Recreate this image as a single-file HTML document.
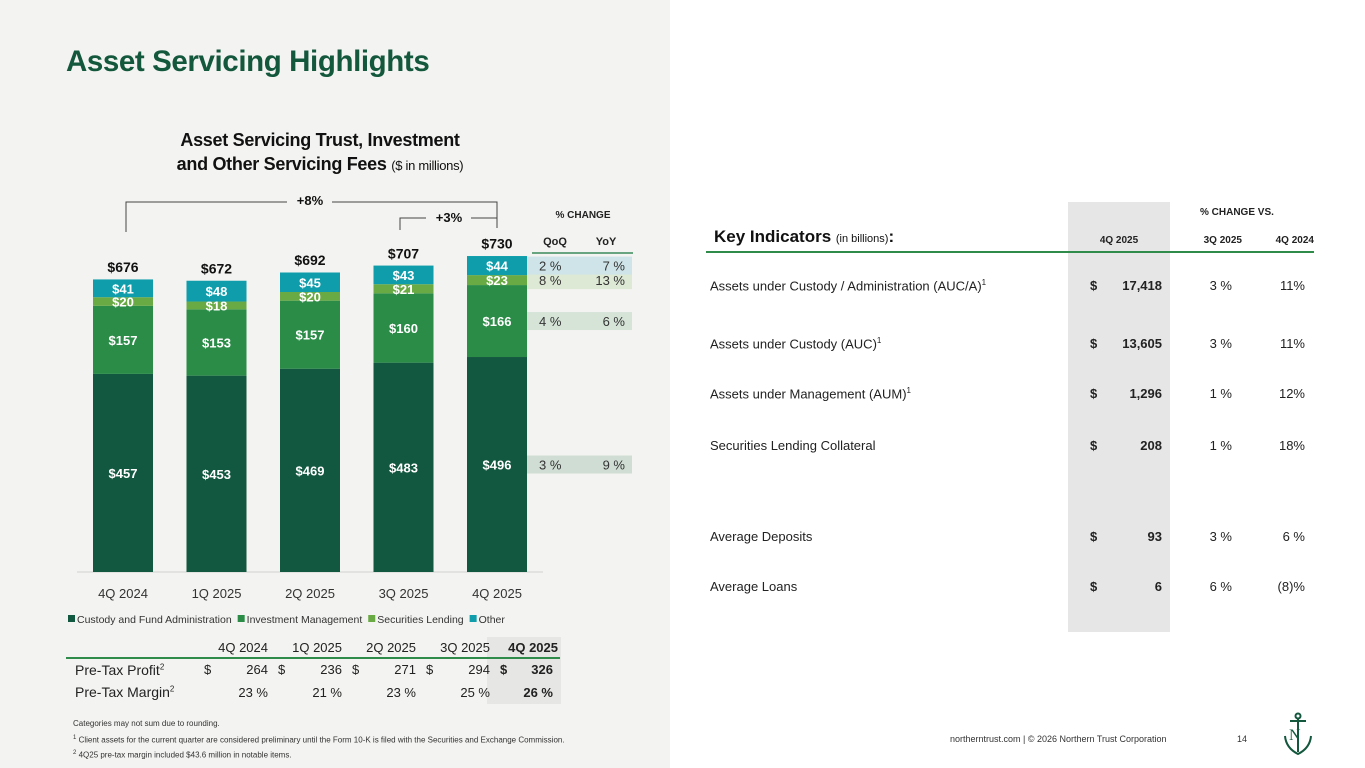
<!DOCTYPE html>
<html><head><meta charset="utf-8">
<style>
*{margin:0;padding:0;box-sizing:border-box}
body{width:1365px;height:768px;position:relative;overflow:hidden;background:#fff;font-family:"Liberation Sans",sans-serif;color:#222}
.a{position:absolute;white-space:nowrap}
#left{position:absolute;left:0;top:0;width:670px;height:768px;background:#f3f3f1}
.b{font-weight:bold}
.r{text-align:right}
.c{text-align:center}
</style></head><body>
<div id="left"></div>
<div class="a b" style="left:66px;top:45px;font-size:29.5px;color:#13573d;letter-spacing:-0.4px">Asset Servicing Highlights</div>
<div class="a b c" style="left:140px;top:128px;width:360px;font-size:18px;line-height:24px;color:#111;letter-spacing:-0.3px">Asset Servicing Trust, Investment<br>and Other Servicing Fees <span style="font-weight:normal;font-size:13px">($ in millions)</span></div>

<svg id="chart" class="a" style="left:0;top:0" width="670" height="640" font-family="Liberation Sans, sans-serif"></svg>

<div class="a" style="left:487px;top:637px;width:74px;height:67px;background:#e6e6e4"></div>
<div class="a" style="left:66px;top:657px;width:494px;height:2px;background:#2e8b4a"></div>
<div style="font-size:13px">
<div class="a r" style="left:190px;top:640px;width:78px">4Q 2024</div>
<div class="a r" style="left:264px;top:640px;width:78px">1Q 2025</div>
<div class="a r" style="left:338px;top:640px;width:78px">2Q 2025</div>
<div class="a r" style="left:412px;top:640px;width:78px">3Q 2025</div>
<div class="a r b" style="left:480px;top:640px;width:78px">4Q 2025</div>
<div class="a" style="left:75px;top:662px;font-size:14px">Pre-Tax Profit<sup style="font-size:8px">2</sup></div>
<div class="a" style="left:75px;top:684px;font-size:14px">Pre-Tax Margin<sup style="font-size:8px">2</sup></div>
<div class="a" style="left:204px;top:662px">$</div><div class="a r" style="left:220px;top:662px;width:48px">264</div>
<div class="a" style="left:278px;top:662px">$</div><div class="a r" style="left:294px;top:662px;width:48px">236</div>
<div class="a" style="left:352px;top:662px">$</div><div class="a r" style="left:368px;top:662px;width:48px">271</div>
<div class="a" style="left:426px;top:662px">$</div><div class="a r" style="left:442px;top:662px;width:48px">294</div>
<div class="a b" style="left:500px;top:662px">$</div><div class="a r b" style="left:505px;top:662px;width:48px">326</div>
<div class="a r" style="left:200px;top:685px;width:68px">23 %</div>
<div class="a r" style="left:274px;top:685px;width:68px">21 %</div>
<div class="a r" style="left:348px;top:685px;width:68px">23 %</div>
<div class="a r" style="left:422px;top:685px;width:68px">25 %</div>
<div class="a r b" style="left:485px;top:685px;width:68px">26 %</div>
</div>
<div style="font-size:8px;color:#333">
<div class="a" style="left:73px;top:719px">Categories may not sum due to rounding.</div>
<div class="a" style="left:73px;top:735px"><sup style="font-size:6px">1</sup> Client assets for the current quarter are considered preliminary until the Form 10-K is filed with the Securities and Exchange Commission.</div>
<div class="a" style="left:73px;top:750px"><sup style="font-size:6px">2</sup> 4Q25 pre-tax margin included $43.6 million in notable items.</div>
</div>

<div class="a" style="left:1068px;top:202px;width:102px;height:430px;background:#e6e6e6"></div>
<div class="a b" style="left:714px;top:227px;font-size:17px;color:#111">Key Indicators <span style="font-weight:normal;font-size:11px">(in billions)</span>:</div>
<div class="a b" style="left:1200px;top:207px;font-size:10px">% CHANGE VS.</div>
<div class="a b c" style="left:1068px;top:235px;width:102px;font-size:10px">4Q 2025</div>
<div class="a b r" style="left:1170px;top:235px;width:72px;font-size:10px">3Q 2025</div>
<div class="a b r" style="left:1240px;top:235px;width:74px;font-size:10px">4Q 2024</div>
<div class="a" style="left:706px;top:251px;width:608px;height:2px;background:#2e8b4a"></div>
<div style="font-size:13px">
<div class="a" style="left:710px;top:278px">Assets under Custody / Administration (AUC/A)<sup style="font-size:8px">1</sup></div>
<div class="a" style="left:710px;top:336px">Assets under Custody (AUC)<sup style="font-size:8px">1</sup></div>
<div class="a" style="left:710px;top:386px">Assets under Management (AUM)<sup style="font-size:8px">1</sup></div>
<div class="a" style="left:710px;top:438px">Securities Lending Collateral</div>
<div class="a" style="left:710px;top:529px">Average Deposits</div>
<div class="a" style="left:710px;top:579px">Average Loans</div>
<div class="a b" style="left:1090px;top:278px">$</div><div class="a r b" style="left:1100px;top:278px;width:62px">17,418</div>
<div class="a b" style="left:1090px;top:336px">$</div><div class="a r b" style="left:1100px;top:336px;width:62px">13,605</div>
<div class="a b" style="left:1090px;top:386px">$</div><div class="a r b" style="left:1100px;top:386px;width:62px">1,296</div>
<div class="a b" style="left:1090px;top:438px">$</div><div class="a r b" style="left:1100px;top:438px;width:62px">208</div>
<div class="a b" style="left:1090px;top:529px">$</div><div class="a r b" style="left:1100px;top:529px;width:62px">93</div>
<div class="a b" style="left:1090px;top:579px">$</div><div class="a r b" style="left:1100px;top:579px;width:62px">6</div>
<div class="a r" style="left:1180px;top:278px;width:52px">3 %</div><div class="a r" style="left:1250px;top:278px;width:55px">11%</div>
<div class="a r" style="left:1180px;top:336px;width:52px">3 %</div><div class="a r" style="left:1250px;top:336px;width:55px">11%</div>
<div class="a r" style="left:1180px;top:386px;width:52px">1 %</div><div class="a r" style="left:1250px;top:386px;width:55px">12%</div>
<div class="a r" style="left:1180px;top:438px;width:52px">1 %</div><div class="a r" style="left:1250px;top:438px;width:55px">18%</div>
<div class="a r" style="left:1180px;top:529px;width:52px">3 %</div><div class="a r" style="left:1250px;top:529px;width:55px">6 %</div>
<div class="a r" style="left:1180px;top:579px;width:52px">6 %</div><div class="a r" style="left:1250px;top:579px;width:55px">(8)%</div>
</div>
<div class="a" style="left:950px;top:734px;font-size:9px;color:#333">northerntrust.com  |  © 2026 Northern Trust Corporation</div>
<div class="a" style="left:1237px;top:734px;font-size:9px;color:#333">14</div>
<svg class="a" style="left:1282px;top:712px" width="32" height="46" viewBox="0 0 32 46" fill="none" stroke="#13573d" stroke-width="2">
<circle cx="16" cy="4" r="2.5"/><line x1="8" y1="9" x2="24" y2="9"/><line x1="16" y1="7" x2="16" y2="40"/>
<path d="M3 24 Q4 36 16 42 Q28 36 29 24"/>
<text x="7" y="28" font-size="16" font-family="Liberation Serif, serif" fill="#13573d" stroke="none">N</text>
</svg>

<script>
const categories=["4Q 2024","1Q 2025","2Q 2025","3Q 2025","4Q 2025"];
const custody=[457,453,469,483,496];
const investment=[157,153,157,160,166];
const secLending=[20,18,20,21,23];
const other=[41,48,45,43,44];
const totals=[676,672,692,707,730];
const qoq=["3 %","4 %","8 %","2 %"];
const yoy=["9 %","6 %","13 %","7 %"];
const legendLabels=["Custody and Fund Administration","Investment Management","Securities Lending","Other"];
const colors=["#12573f","#2a8c47","#6aaa45","#0f9dab"];
const rowColors=["#d0ddd4","#d6e4d8","#dde8d5","#cfe4e8"];
const NS="http://www.w3.org/2000/svg";
const svg=document.getElementById('chart');
const base=572, scale=(572-279)/676;
const y=v=>base-v*scale;
const x=i=>123+i*93.5;
const bw=60;
function el(t,a,p){const e=document.createElementNS(NS,t);for(const k in a)e.setAttribute(k,a[k]);(p||svg).appendChild(e);return e;}
function txt(s,a){const e=el('text',a);e.textContent=s;return e;}
const ax=el('line',{x1:77,x2:543,y1:base,y2:base,stroke:'#d0d0d0','stroke-width':1});


const series=[custody,investment,secLending,other];
const last=categories.length-1;
for(let s=0;s<4;s++){
  let b=0;for(let k=0;k<s;k++)b+=series[k][last];
  const mid=y(b+series[s][last]/2);
  const r=el('rect',{x:x(last)+bw/2,y:mid-9,width:105,height:18,fill:rowColors[s]});
  
  
  const t1=txt(qoq[s],{x:x(last)+bw/2+12,y:mid+5,'font-size':13,fill:'#333'});
  
  
  const t2=txt(yoy[s],{x:x(last)+bw/2+98,y:mid+5,'font-size':13,fill:'#333','text-anchor':'end'});
  
  
}
categories.forEach((c,i)=>{
  let b=0;
  series.forEach((ser,s)=>{
    const v=ser[i];
    const r=el('rect',{x:x(i)-bw/2,y:y(b+v),width:bw,height:v*scale,fill:colors[s]});
    
    
    const t=txt('$'+v,{x:x(i),y:y(b+v/2)+5,'font-size':13,'font-weight':'bold',fill:'#fff','text-anchor':'middle'});
    
    
    b+=v;
  });
  const tt=txt('$'+totals[i],{x:x(i),y:y(totals[i])-7,'font-size':14,'font-weight':'bold',fill:'#111','text-anchor':'middle'});
  
  
  const cl=txt(c,{x:x(i),y:base+26,'font-size':13,fill:'#333','text-anchor':'middle'});
  
  
});
const h1=txt('% CHANGE',{x:583,y:218,'font-size':10,'font-weight':'bold','text-anchor':'middle',fill:'#222'});


const h2=txt('QoQ',{x:555,y:245,'font-size':11,'font-weight':'bold','text-anchor':'middle',fill:'#222'});


const h3=txt('YoY',{x:606,y:245,'font-size':11,'font-weight':'bold','text-anchor':'middle',fill:'#222'});


const hl=el('line',{x1:532,x2:633,y1:253,y2:253,stroke:'#3a8a5a','stroke-width':1.5});


const p1=el('path',{d:`M126 232 V202 H287 M332 202 H497 V228`,fill:'none',stroke:'#444','stroke-width':1});


const b1=txt('+8%',{x:310,y:205,'font-size':13,'font-weight':'bold','text-anchor':'middle',fill:'#111'});


const p2=el('path',{d:`M400 230 V218 H426 M471 218 H497`,fill:'none',stroke:'#444','stroke-width':1});


const b2=txt('+3%',{x:449,y:222,'font-size':13,'font-weight':'bold','text-anchor':'middle',fill:'#111'});


let lx=68;
legendLabels.forEach((l,i)=>{
  const sq=el('rect',{x:lx,y:615,width:7,height:7,fill:colors[i]});
  
  
  const t=txt(l,{x:lx+9,y:623,'font-size':10.5,fill:'#333'});
  
  
  lx+=9+t.getComputedTextLength()+6;
});
</script>
</body></html>
